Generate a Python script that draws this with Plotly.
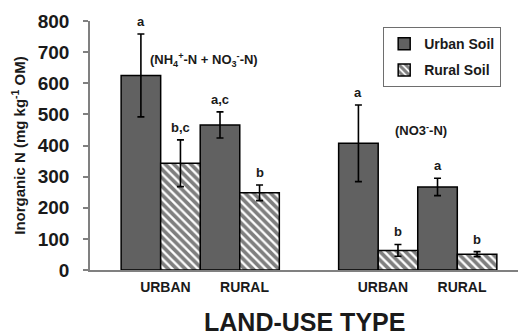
import plotly.graph_objects as go

# Inorganic N in soil organic matter by land-use type, two panels:
# total (NH4+-N + NO3--N) and nitrate only (NO3--N)
land_use = ["URBAN", "RURAL", "URBAN", "RURAL"]
urban_soil = [625, 466, 407, 267]
urban_err = [133, 42, 123, 28]
rural_soil = [343, 248, 63, 51]
rural_err = [75, 25, 19, 8]
urban_letters = ["a", "a,c", "a", "a"]
rural_letters = ["b,c", "b", "b", "b"]
panel_labels = ["(NH<sub>4</sub><sup>+</sup>-N + NO<sub>3</sub><sup>-</sup>-N)", "(NO3<sup>-</sup>-N)"]

# slot layout: each land-use type holds an urban-soil and a rural-soil bar,
# with a wider gap between the two panels
group_start = [0, 2, 5.5, 7.5]
x_urban = [g for g in group_start]
x_rural = [g + 1 for g in group_start]
tick_pos = [g + 0.62 for g in group_start]

FONT = "Liberation Sans, Arial, sans-serif"
INK = "#1a1a1a"

fig = go.Figure()
fig.add_trace(go.Bar(
    x=x_urban, y=urban_soil, width=1, name="Urban Soil",
    legendgroup="u",
    marker=dict(color="#616161", line=dict(color="black", width=1.5)),
    error_y=dict(type="data", array=urban_err, color="black", thickness=1.6, width=3.5),
))
fig.add_trace(go.Bar(
    x=x_rural, y=rural_soil, width=1, name="Rural Soil",
    legendgroup="r",
    marker=dict(color="white", line=dict(color="black", width=1.5),
                pattern=dict(shape="\\", fgcolor="black", bgcolor="white",
                             size=6, solidity=0.62)),
    error_y=dict(type="data", array=rural_err, color="black", thickness=1.6, width=3.5),
))

annotations = []
for xs, vals, errs, letters in [(x_urban, urban_soil, urban_err, urban_letters),
                                (x_rural, rural_soil, rural_err, rural_letters)]:
    for x, v, e, t in zip(xs, vals, errs, letters):
        annotations.append(dict(x=x, y=v + e, text=t, showarrow=False,
                                yanchor="bottom", yshift=3,
                                font=dict(family=FONT, size=13, color=INK, weight="bold")))
annotations.append(dict(x=1.6, y=675, text=panel_labels[0], showarrow=False,
                        font=dict(family=FONT, size=13, color=INK, weight="bold")))
annotations.append(dict(x=7.08, y=450, text=panel_labels[1], showarrow=False,
                        font=dict(family=FONT, size=13, color=INK, weight="bold")))
# x-axis title, placed below the category labels
annotations.append(dict(x=0.5, xref="paper", y=0, yref="paper", yanchor="top",
                        yshift=-36, text="LAND-USE TYPE", showarrow=False,
                        font=dict(family=FONT, size=25, color=INK, weight="bold")))

fig.update_layout(
    width=518, height=335,
    margin=dict(l=90, r=0, t=21, b=65),
    paper_bgcolor="white", plot_bgcolor="white",
    barmode="overlay",
    font=dict(family=FONT, color=INK, weight="bold"),
    annotations=annotations,
    showlegend=True,
    legend=dict(x=0.685, y=0.975, xanchor="left", yanchor="top",
                bordercolor="#6e6e6e", borderwidth=1, bgcolor="white",
                tracegroupgap=5, entrywidth=88,
                font=dict(family=FONT, size=14, color=INK, weight="bold")),
    xaxis=dict(range=[-1.287, 9.535], tickvals=tick_pos, ticktext=land_use,
               showline=True, linecolor="#808080", linewidth=2,
               ticks="", showgrid=False, zeroline=False,
               ticklabelstandoff=3, automargin=False,
               tickfont=dict(family=FONT, size=14, color=INK, weight="bold")),
    yaxis=dict(range=[0, 800], tickvals=list(range(0, 801, 100)),
               showline=True, linecolor="#808080", linewidth=1.5,
               ticks="outside", ticklen=5, tickcolor="#808080", tickwidth=1.5,
               showgrid=False, zeroline=False,
               ticklabelstandoff=10,
               tickfont=dict(family=FONT, size=19, color=INK, weight="bold"),
               title=dict(text="Inorganic N (mg kg<sup>-1</sup> OM)", standoff=8,
                          font=dict(family=FONT, size=15, color=INK, weight="bold"))),
)

fig.write_html("out.html")
